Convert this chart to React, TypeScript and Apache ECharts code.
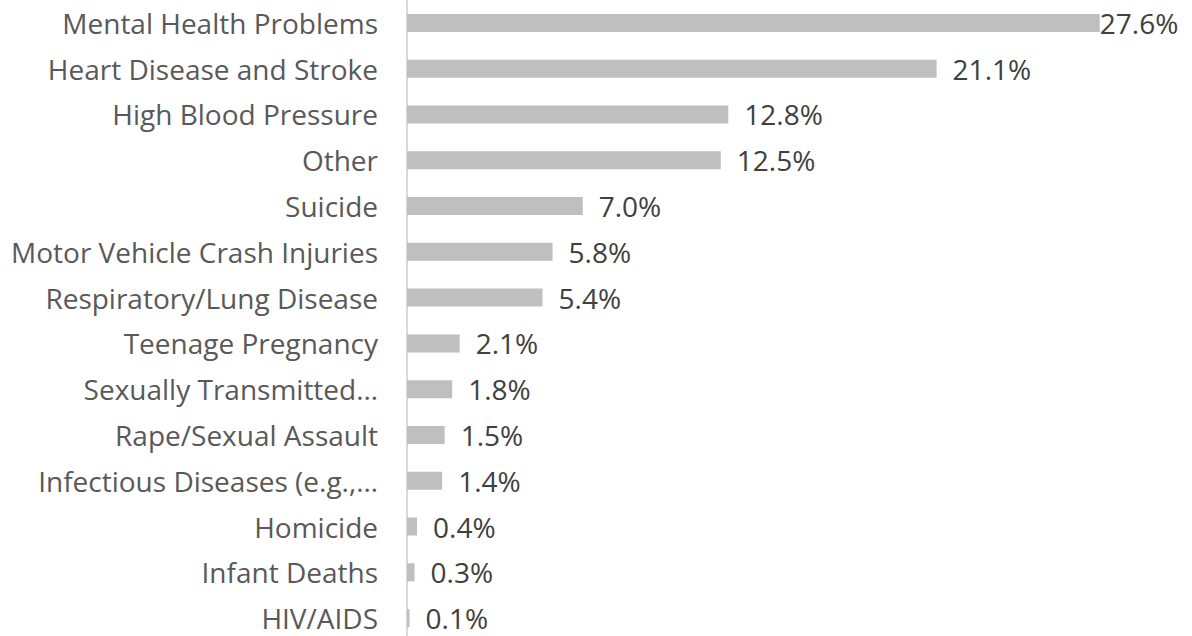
import React, { useEffect, useRef } from "react";
import * as echarts from "echarts";

const categories = [
  "Mental Health Problems",
  "Heart Disease and Stroke",
  "High Blood Pressure",
  "Other",
  "Suicide",
  "Motor Vehicle Crash Injuries",
  "Respiratory/Lung Disease",
  "Teenage Pregnancy",
  "Sexually Transmitted…",
  "Rape/Sexual Assault",
  "Infectious Diseases (e.g.,…",
  "Homicide",
  "Infant Deaths",
  "HIV/AIDS",
];

const values = [27.6, 21.1, 12.8, 12.5, 7.0, 5.8, 5.4, 2.1, 1.8, 1.5, 1.4, 0.4, 0.3, 0.1];

export default function App() {
  const ref = useRef<HTMLDivElement>(null);
  useEffect(() => {
    if (!ref.current) return;
    const chart = echarts.init(ref.current, null, { renderer: "svg" });
    const font = "'Open Sans', sans-serif";
    chart.setOption({
      animation: false,
      grid: { left: 407, top: 0, right: 32, height: 641, containLabel: false },
      xAxis: {
        type: "value",
        min: 0,
        max: 30,
        show: false,
      },
      yAxis: {
        type: "category",
        data: categories,
        inverse: true,
        axisLine: { show: true, lineStyle: { color: "#d9d9d9", width: 2 } },
        axisTick: { show: false },
        axisLabel: { margin: 29, fontSize: 28, lineHeight: 28, color: "#595959", fontFamily: font },
        splitLine: { show: false },
      },
      series: [
        {
          type: "bar",
          data: values.map((v, i) => ({
            value: v,
            label: i === 0 ? { distance: 0 } : undefined,
          })),
          barWidth: 18,
          itemStyle: { color: "#bfbfbf" },
          label: {
            show: true,
            position: "right",
            distance: 16,
            fontSize: 28,
            lineHeight: 28,
            color: "#404040",
            fontFamily: font,
            formatter: (p: any) => Number(p.value).toFixed(1) + "%",
          },
        },
      ],
    });
    return () => chart.dispose();
  }, []);
  return (
    <div
      style={{ position: "fixed", left: 0, top: 0, width: 1192, height: 636, overflow: "hidden", background: "#fff" }}
    >
      <div ref={ref} style={{ width: 1192, height: 660 }} />
    </div>
  );
}
